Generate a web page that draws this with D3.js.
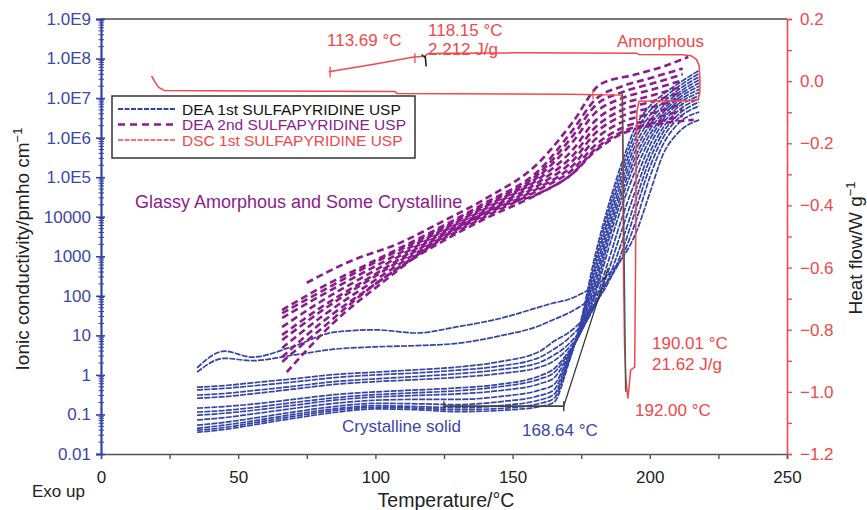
<!DOCTYPE html>
<html><head><meta charset="utf-8">
<script src="https://cdn.jsdelivr.net/npm/d3@7"></script>
<style>
body{margin:0;background:#fff;}
svg{font-family:"Liberation Sans",Arial,Helvetica,sans-serif;}
</style></head>
<body><svg id="c" width="867" height="510"></svg>
<script>
// ---------- DATA ----------
// DEA 1st heating: temperature grid (°C) and log10 conductivity (pmho/cm) per frequency
const blueT = [35,45,55,70,85,100,115,130,145,160,165,170,175,180,185,190,195,200,205,210,218];
const blue0  = [-1.45,-1.38,-1.27,-1.1,-0.95,-0.86,-0.88,-0.93,-0.9,-0.8,-0.7, 0.2,1.4,3.0,4.3,5.4,6.3,6.8,7.1,7.35,7.7];
const blue1  = [-1.40,-1.33,-1.22,-1.05,-0.9,-0.82,-0.84,-0.88,-0.85,-0.72,-0.6, 0.25,1.35,2.85,4.15,5.25,6.15,6.68,7.0,7.27,7.62];
const blue2  = [-1.35,-1.27,-1.17,-1.0,-0.86,-0.78,-0.8,-0.83,-0.78,-0.63,-0.5, 0.3,1.3,2.7,4.0,5.1,6.0,6.56,6.9,7.19,7.54];
const blue3  = [-1.27,-1.2,-1.1,-0.94,-0.8,-0.72,-0.73,-0.75,-0.68,-0.52,-0.38, 0.35,1.25,2.55,3.85,4.95,5.85,6.44,6.8,7.11,7.46];
const blue4  = [-1.14,-1.08,-0.99,-0.85,-0.72,-0.64,-0.62,-0.62,-0.55,-0.38,-0.25, 0.4,1.2,2.4,3.7,4.8,5.7,6.32,6.72,7.04,7.38];
const blue5  = [-1.02,-0.97,-0.9,-0.77,-0.64,-0.56,-0.52,-0.48,-0.4,-0.22,-0.08, 0.45,1.15,2.25,3.55,4.65,5.55,6.2,6.64,6.97,7.3];
const blue6  = [-0.94,-0.9,-0.83,-0.7,-0.58,-0.5,-0.45,-0.4,-0.3,-0.1,0.05, 0.5,1.1,2.1,3.4,4.5,5.4,6.08,6.56,6.9,7.22];
const blue7  = [-0.84,-0.8,-0.74,-0.62,-0.5,-0.43,-0.38,-0.33,-0.24,-0.02,0.15, 0.55,1.1,2.0,3.2,4.3,5.2,5.95,6.48,6.83,7.14];
const blue8  = [-0.59,-0.55,-0.48,-0.36,-0.24,-0.17,-0.12,-0.06,0.03,0.2,0.35, 0.65,1.1,1.85,2.9,4.0,4.95,5.8,6.38,6.75,7.06];
const blue9  = [-0.51,-0.47,-0.4,-0.29,-0.17,-0.1,-0.04,0.03,0.13,0.32,0.5, 0.75,1.15,1.75,2.65,3.7,4.7,5.62,6.27,6.66,6.98];
const blue10 = [-0.38,-0.34,-0.28,-0.18,-0.07,0.0,0.05,0.12,0.22,0.45,0.65, 0.9,1.25,1.75,2.45,3.4,4.45,5.45,6.15,6.56,6.9];
const blue11 = [-0.31,-0.27,-0.2,-0.1,0.01,0.07,0.13,0.2,0.33,0.6,0.85, 1.05,1.35,1.8,2.35,3.15,4.2,5.25,6.02,6.46,6.8];
const blue12 = [0.07,0.42,0.36,0.5,0.65,0.71,0.74,0.8,0.98,1.25,1.4, 1.55,1.75,2.0,2.4,3.0,3.9,5.0,5.85,6.33,6.65];
const blue13 = [0.18,0.6,0.45,0.72,1.08,1.14,1.06,1.22,1.42,1.72,1.82, 1.9,2.05,2.25,2.55,2.95,3.6,4.6,5.6,6.1,6.45];
const blueSeries = [blue0,blue1,blue2,blue3,blue4,blue5,blue6,blue7,blue8,blue9,blue10,blue11,blue12,blue13];

// DEA 2nd heating: [T, log10 conductivity]
const purple0  = [[75,2.33],[90,2.85],[109,3.34],[125,3.9],[140,4.45],[160,5.4],[172,6.4],[182,7.35],[195,7.6],[205,7.8],[214,8.04]];
const purple1  = [[66,1.64],[80,2.2],[100,2.9],[120,3.6],[140,4.35],[160,5.2],[172,6.2],[180,6.95],[190,7.3],[200,7.5],[212,7.75]];
const purple2  = [[66,1.56],[80,2.1],[100,2.85],[120,3.55],[140,4.3],[160,5.12],[172,6.05],[180,6.8],[190,7.15],[200,7.35],[212,7.6]];
const purple3  = [[66,1.44],[80,2.0],[100,2.75],[120,3.5],[140,4.25],[160,5.05],[172,5.9],[180,6.62],[190,7.0],[200,7.2],[212,7.45]];
const purple4  = [[66,1.21],[80,1.85],[100,2.65],[120,3.45],[140,4.2],[160,4.98],[172,5.7],[180,6.42],[190,6.85],[200,7.05],[212,7.3]];
const purple5  = [[66,1.01],[80,1.7],[100,2.55],[120,3.4],[140,4.15],[160,4.9],[172,5.55],[180,6.25],[190,6.7],[200,6.9],[212,7.15]];
const purple6  = [[66,0.88],[80,1.6],[100,2.5],[120,3.35],[140,4.1],[160,4.82],[172,5.42],[180,6.1],[190,6.55],[200,6.75],[212,7.0]];
const purple7  = [[66,0.68],[80,1.45],[100,2.4],[120,3.3],[140,4.05],[160,4.75],[172,5.3],[180,5.95],[190,6.4],[200,6.6],[212,6.85]];
const purple8  = [[66,0.45],[80,1.3],[100,2.3],[120,3.25],[140,4.0],[160,4.7],[172,5.2],[180,5.8],[190,6.25],[200,6.45],[212,6.7]];
const purple9  = [[66,0.33],[80,1.15],[100,2.3],[120,3.2],[140,3.95],[160,4.6],[172,5.1],[180,5.7],[190,6.15],[200,6.35],[212,6.55]];
const purple10 = [[67.7,0.07],[84.6,1.31],[102.8,2.35],[127,3.59],[145,4.25],[160,4.6],[172,5.1],[180,5.65],[190,6.1],[200,6.3],[216,6.45]];
const purpleSeries = [purple0,purple1,purple2,purple3,purple4,purple5,purple6,purple7,purple8,purple9,purple10];

// DSC 1st heating: temperature (°C) and heat flow (W/g), in trace order
const dscT  = [18.4,19.5,21,23,60,107,108,170,189.5,190.0,190.2,190.4,190.8,191.3,192.0,192.4,193.0,194.5,194.8,195.0,195.3,196,205,214,217.5,218.2,218.3,218.0,217,215,212,196,195,150,125,119,118,114,100,83];
const dscHF = [0.017,0.0,-0.02,-0.03,-0.032,-0.033,-0.04,-0.042,-0.045,-0.06,-0.3,-0.6,-0.85,-0.96,-1.02,-0.99,-0.93,-0.92,-0.6,-0.3,-0.1,-0.065,-0.063,-0.063,-0.06,-0.04,0.0,0.05,0.07,0.082,0.085,0.086,0.09,0.091,0.09,0.088,0.08,0.078,0.055,0.03];

// tick labels
const xTicks = [0,50,100,150,200,250];
const yLeftTicks = [1e-2,1e-1,1,10,100,1000,10000,1e5,1e6,1e7,1e8,1e9];
const yLeftLabels = ["0.01","0.1","1","10","100","1000","10000","1.0E5","1.0E6","1.0E7","1.0E8","1.0E9"];
const yRightTicks = [0.2,0,-0.2,-0.4,-0.6,-0.8,-1.0,-1.2];
const yRightLabels = ["0.2","0.0","\u22120.2","\u22120.4","\u22120.6","\u22120.8","\u22121.0","\u22121.2"];

const legendItems = ["DEA 1st SULFAPYRIDINE USP","DEA 2nd SULFAPYRIDINE USP","DSC 1st SULFAPYRIDINE USP"];

// ---------- DRAW ----------
const BLUE="#3443a8", BLUET="#3d47a8", PURP="#8a1c8c", RED="#f2474b";
const svg = d3.select("#c");
const x  = d3.scaleLinear([0,250],[101,787]);
const yL = d3.scaleLog([0.01,1e9],[454,19]);
const yR = d3.scaleLinear([-1.2,0.2],[454,19]);
const FS = 17;

// curves
const lineLog = d3.line().x(d=>x(d[0])).y(d=>yL(Math.pow(10,d[1]))).curve(d3.curveMonotoneX);
const gB = svg.append("g");
blueSeries.forEach(s=>{
  gB.append("path").attr("d", lineLog(blueT.map((t,i)=>[t,s[i]])))
    .attr("fill","none").attr("stroke",BLUE).attr("stroke-width",1.7)
    .attr("stroke-dasharray","6,1.2");
});
const gP = svg.append("g");
purpleSeries.forEach(s=>{
  gP.append("path").attr("d", lineLog(s))
    .attr("fill","none").attr("stroke",PURP).attr("stroke-width",2.6)
    .attr("stroke-dasharray","7,4");
});
const lineDSC = d3.line().x(d=>x(d[0])).y(d=>yR(d[1]));
svg.append("path").attr("d", lineDSC(dscT.map((t,i)=>[t,dscHF[i]])))
  .attr("fill","none").attr("stroke",RED).attr("stroke-width",1.5).attr("stroke-linejoin","round");

// red small tick marks on DSC
[[83.5,0.046,0.012],[114.4,0.09,0.058],[179.3,-0.028,-0.058]].forEach(d=>{
  svg.append("line").attr("x1",x(d[0])).attr("x2",x(d[0])).attr("y1",yR(d[1])).attr("y2",yR(d[2]))
    .attr("stroke",RED).attr("stroke-width",1.3);
});
// black analysis marks
svg.append("line").attr("x1",x(118.15)).attr("x2",x(118.5)).attr("y1",yR(0.082)).attr("y2",yR(0.047)).attr("stroke","#222").attr("stroke-width",1.6);
svg.append("line").attr("x1",x(116.8)).attr("x2",x(118.2)).attr("y1",yR(0.086)).attr("y2",yR(0.075)).attr("stroke","#222").attr("stroke-width",1.3);
svg.append("line").attr("x1",x(190.0)).attr("x2",x(191.2)).attr("y1",yR(-0.035)).attr("y2",yR(-1.0)).attr("stroke","#555").attr("stroke-width",1.4);
svg.append("line").attr("x1",x(168.64)).attr("x2",x(184.8)).attr("y1",yL(Math.pow(10,-0.79))).attr("y2",yL(Math.pow(10,2.7))).attr("stroke","#333").attr("stroke-width",1.3);
svg.append("line").attr("x1",x(125)).attr("x2",x(168.64)).attr("y1",yL(Math.pow(10,-0.79))).attr("y2",yL(Math.pow(10,-0.79))).attr("stroke","#444").attr("stroke-width",1.6);
[125,168.64].forEach(t=>{
  svg.append("line").attr("x1",x(t)).attr("x2",x(t)).attr("y1",yL(Math.pow(10,-0.79))-5).attr("y2",yL(Math.pow(10,-0.79))+5).attr("stroke","#444").attr("stroke-width",1.5);
});

// top border
svg.append("line").attr("x1",101).attr("x2",787).attr("y1",19).attr("y2",19).attr("stroke","#777").attr("stroke-width",2);

// bottom axis
const gx = svg.append("g").attr("transform","translate(0,454)")
  .call(d3.axisBottom(x).tickValues(xTicks).tickFormat(d3.format("d")).tickSize(5).tickPadding(12));
svg.append("g").attr("transform","translate(0,454)")
  .call(d3.axisBottom(x).tickValues([25,75,125,175,225]).tickFormat("").tickSize(5))
  .select(".domain").remove();
svg.selectAll("g .domain").attr("stroke","#555").attr("stroke-width",1.6);
gx.selectAll("text").attr("font-size",FS).attr("fill","#222");
svg.selectAll(".tick line").attr("stroke","#555").attr("stroke-width",1.4);

// left axis
const minorL=[];
for(let e=-2;e<9;e++) for(let m=2;m<10;m++) minorL.push(m*Math.pow(10,e));
const gl = svg.append("g").attr("transform","translate(101,0)")
  .call(d3.axisLeft(yL).tickValues(yLeftTicks).tickFormat((d,i)=>yLeftLabels[i]).tickSize(5).tickPadding(5));
gl.select(".domain").attr("stroke",BLUE).attr("stroke-width",2.2);
gl.selectAll(".tick line").attr("stroke",BLUE).attr("stroke-width",1.6).attr("x2",-5).attr("x1",4);
gl.selectAll("text").attr("font-size",FS).attr("fill",BLUET);
const gm = svg.append("g").attr("transform","translate(101,0)");
minorL.forEach(v=>{
  gm.append("line").attr("x1",-2.5).attr("x2",3).attr("y1",yL(v)).attr("y2",yL(v)).attr("stroke",BLUE).attr("stroke-width",1);
});

// right axis
const gr = svg.append("g").attr("transform","translate(787,0)")
  .call(d3.axisRight(yR).tickValues(yRightTicks).tickFormat((d,i)=>yRightLabels[i]).tickSize(5).tickPadding(8));
svg.append("g").attr("transform","translate(787,0)")
  .call(d3.axisRight(yR).tickValues([0.1,-0.1,-0.3,-0.5,-0.7,-0.9,-1.1]).tickFormat("").tickSize(5))
  .call(g=>g.select(".domain").remove())
  .selectAll("line").attr("stroke",RED).attr("stroke-width",1.3);
gr.select(".domain").attr("stroke",RED).attr("stroke-width",1.6);
gr.selectAll(".tick line").attr("stroke",RED).attr("stroke-width",1.3);
gr.selectAll("text").attr("font-size",FS).attr("fill",RED);

// axis titles
const yt = svg.append("text").attr("transform","translate(29,249) rotate(-90)").attr("text-anchor","middle")
  .attr("font-size",19).attr("fill","#222");
yt.append("tspan").text("Ionic conductivity/pmho cm");
yt.append("tspan").attr("dy",-7).attr("font-size",13).text("\u22121");
const rt = svg.append("text").attr("transform","translate(862,248) rotate(-90)").attr("text-anchor","middle")
  .attr("font-size",19).attr("fill","#222");
rt.append("tspan").text("Heat flow/W g");
rt.append("tspan").attr("dy",-7).attr("font-size",13).text("\u22121");
svg.append("text").attr("x",446).attr("y",507).attr("text-anchor","middle").attr("font-size",19.5).attr("fill","#222").text("Temperature/\u00b0C");
svg.append("text").attr("x",32).attr("y",497).attr("font-size",FS).attr("fill","#222").text("Exo up");

// annotations
const ann = [
  ["113.69 \u00b0C",327,46,RED],["118.15 \u00b0C",428,36,RED],["2.212 J/g",428,55,RED],["Amorphous",617,47,RED],
  ["Glassy Amorphous and Some Crystalline",135,208,PURP],["Crystalline solid",342,432,BLUET],["168.64 \u00b0C",522,436,BLUET],
  ["190.01 \u00b0C",652,349,RED],["21.62 J/g",652,370,RED],["192.00 \u00b0C",635,416,RED]
];
ann.forEach(a=>svg.append("text").attr("x",a[1]).attr("y",a[2]).attr("font-size",a[0].startsWith("Glassy")?18:FS).attr("fill",a[3]).text(a[0]));

// legend
const lg = svg.append("g");
lg.append("rect").attr("x",112).attr("y",96).attr("width",303).attr("height",62).attr("fill","#fff").attr("stroke","#333").attr("stroke-width",1.5);
const lcol=[BLUE,PURP,RED], ldash=["5,1.5","7,5","5,1.5"], lw=[1.8,2.4,1.6], ltxt=["#111",PURP,RED];
legendItems.forEach((t,i)=>{
  const yy = 109 + i*15.5;
  lg.append("line").attr("x1",118).attr("x2",176).attr("y1",yy).attr("y2",yy).attr("stroke",lcol[i]).attr("stroke-width",lw[i]).attr("stroke-dasharray",ldash[i]);
  lg.append("text").attr("x",182).attr("y",yy+5.5).attr("font-size",15.5).attr("fill",ltxt[i]).text(t);
});
</script></body></html>
